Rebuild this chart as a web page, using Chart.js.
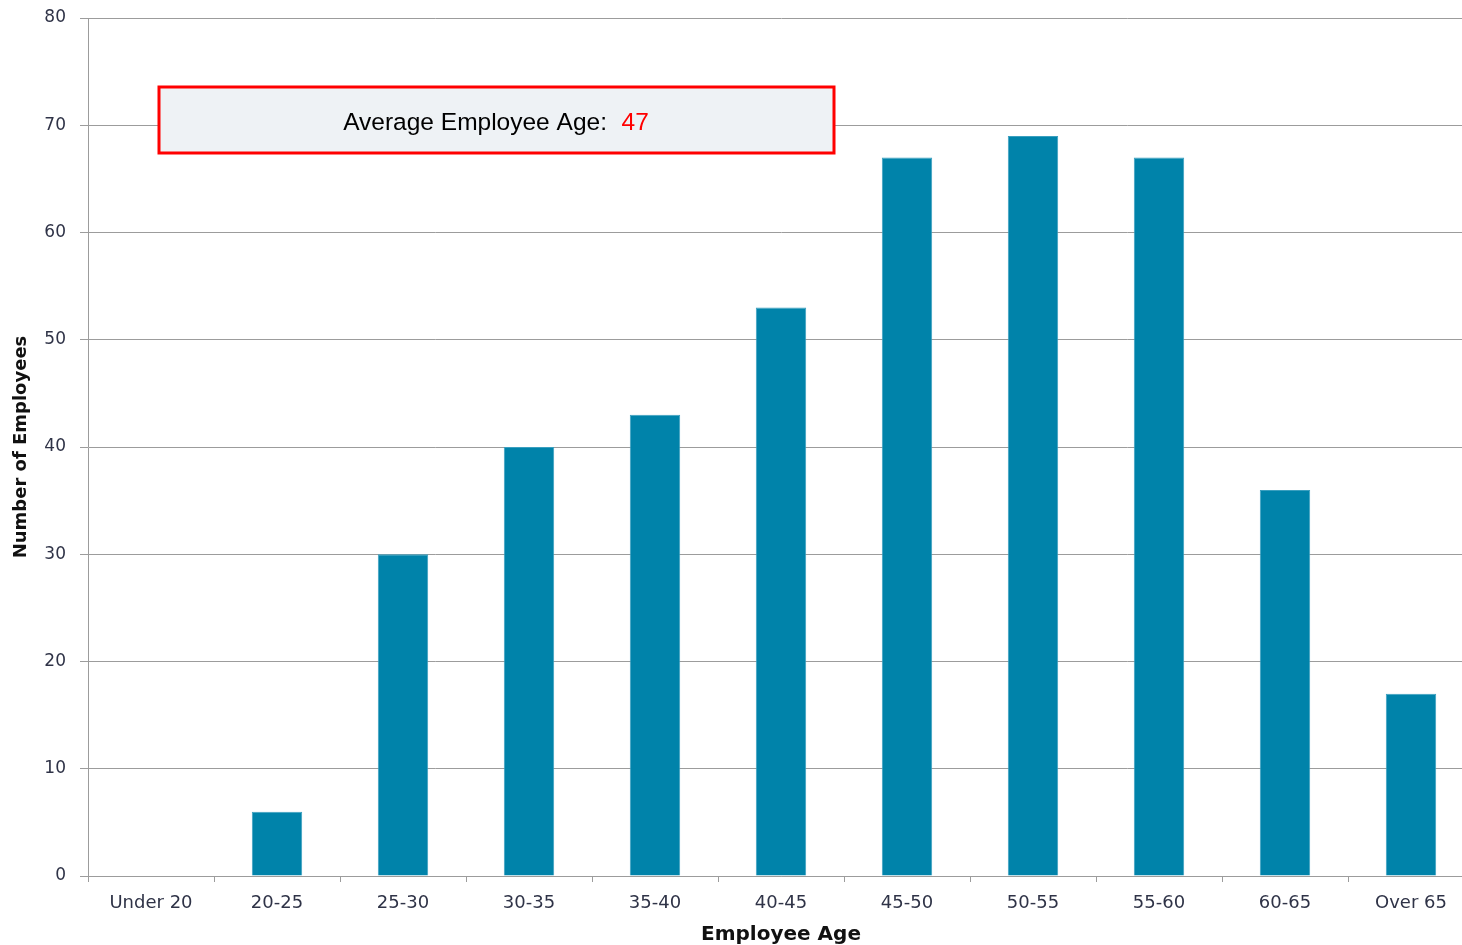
<!DOCTYPE html>
<html>
<head>
<meta charset="utf-8">
<title>Employee Age Distribution</title>
<script src="https://cdn.jsdelivr.net/npm/chart.js@4.4.1/dist/chart.umd.min.js"></script>
<style>
  html, body { margin: 0; padding: 0; background: #ffffff; overflow: hidden; }
  #wrap { width: 1462px; height: 945px; position: relative; overflow: hidden; }
  #chart { display: block; }
</style>
</head>
<body>
<div id="wrap"><canvas id="chart" width="1474" height="945"></canvas></div>
<script>
// Age bands and head counts
const ageBands = ['Under 20', '20-25', '25-30', '30-35', '35-40', '40-45', '45-50', '50-55', '55-60', '60-65', 'Over 65'];
const employeeCounts = [0, 6, 30, 40, 43, 53, 67, 69, 67, 36, 17];
const averageAge = 47;
const averageLabel = 'Average Employee Age:';

const tickColor = '#2f3347';
const gridColor = '#9c9c9c';

// Callout box showing the average age, placed inside the plot area
const averageCallout = {
  id: 'averageCallout',
  afterDraw(chart) {
    const { ctx, chartArea } = chart;
    const x = chartArea.left + 71;
    const y = chartArea.top + 69;
    const w = 675;
    const h = 66;
    ctx.save();
    ctx.fillStyle = '#eef2f5';
    ctx.fillRect(x, y, w, h);
    ctx.lineWidth = 3;
    ctx.strokeStyle = '#ff0000';
    ctx.strokeRect(x, y, w, h);

    ctx.font = '24.5px "Liberation Sans", Arial, sans-serif';
    ctx.textBaseline = 'middle';
    const gap = '  ';
    const wLabel = ctx.measureText(averageLabel + gap).width;
    const wVal = ctx.measureText(String(averageAge)).width;
    const tx = x + w / 2 - (wLabel + wVal) / 2 - 1;
    const ty = y + h / 2 + 3;
    ctx.fillStyle = '#000000';
    ctx.textAlign = 'left';
    ctx.fillText(averageLabel + gap, tx, ty);
    ctx.fillStyle = '#ff0000';
    ctx.fillText(String(averageAge), tx + wLabel + 1, ty);
    ctx.restore();
  }
};

new Chart(document.getElementById('chart'), {
  type: 'bar',
  data: {
    labels: ageBands,
    datasets: [{
      label: 'Number of Employees',
      data: employeeCounts,
      backgroundColor: '#0083aa',
      borderColor: '#3a9fbf',
      borderWidth: 1,
      categoryPercentage: 1.0,
      barPercentage: 0.4
    }]
  },
  options: {
    responsive: false,
    animation: false,
    layout: { padding: { top: 18, right: 0, bottom: 0, left: 0 } },
    plugins: {
      legend: { display: false },
      tooltip: { enabled: false }
    },
    scales: {
      x: {
        offset: true,
        border: { display: true, color: gridColor, width: 1 },
        grid: {
          display: true,
          offset: true,
          drawOnChartArea: false,
          drawTicks: true,
          tickLength: 6,
          color: gridColor
        },
        ticks: {
          color: tickColor,
          font: { family: '"DejaVu Sans", Verdana, sans-serif', size: 18 },
          padding: 11,
          maxRotation: 0,
          autoSkip: false
        },
        title: {
          display: true,
          text: 'Employee Age',
          color: '#111111',
          font: { family: '"DejaVu Sans", Verdana, sans-serif', size: 20, weight: 'bold' },
          padding: { top: 0, bottom: -2 }
        },
        afterFit(scale) {
          scale.height = 69;
          scale.paddingLeft = 0;
          scale.paddingRight = 0;
        }
      },
      y: {
        min: 0,
        max: 80,
        border: { display: true, color: gridColor, width: 1 },
        grid: {
          color: gridColor,
          lineWidth: 1,
          drawTicks: true,
          tickLength: 8
        },
        ticks: {
          stepSize: 10,
          color: tickColor,
          font: { family: '"DejaVu Sans", Verdana, sans-serif', size: 17 },
          padding: 14
        },
        title: {
          display: true,
          text: 'Number of Employees',
          color: '#111111',
          font: { family: '"DejaVu Sans", Verdana, sans-serif', size: 18, weight: 'bold' },
          padding: 11
        },
        afterFit(scale) {
          scale.width = 88;
          scale.paddingTop = 0;
          scale.paddingBottom = 0;
        }
      }
    }
  },
  plugins: [averageCallout]
});
</script>
</body>
</html>
